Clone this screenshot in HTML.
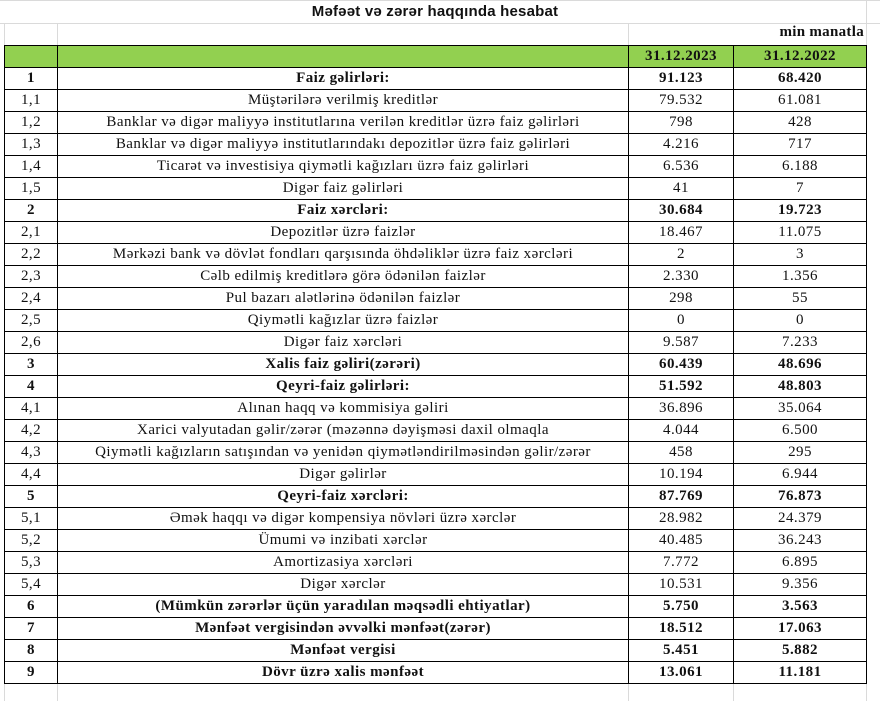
<!DOCTYPE html>
<html><head><meta charset="utf-8"><style>
html,body{margin:0;padding:0;background:#fff;width:880px;height:701px;overflow:hidden}
body{position:relative;font-family:"Liberation Serif",serif;font-size:15px;letter-spacing:0.45px;color:#111}
.g{position:absolute;background:#dadada}
table{position:absolute;left:4px;top:45px;border-collapse:collapse;table-layout:fixed}
td{border:1px solid #000;height:21px;padding:0;text-align:center;white-space:nowrap;overflow:hidden;line-height:21px}
td span{position:relative;top:1px}
tr.h td{background:#92d050;font-weight:bold}
tr.b td{font-weight:bold}
.title{position:absolute;left:0;width:870px;top:3px;text-align:center;font-family:"Liberation Sans",sans-serif;font-weight:bold;font-size:15px;letter-spacing:0.2px}
.unit{position:absolute;right:16px;top:24px;font-size:15px;font-weight:bold;letter-spacing:0.3px}
</style></head><body>
<div class="g" style="left:0;top:0;width:880px;height:1px"></div>
<div class="g" style="left:0;top:23px;width:880px;height:1px"></div>
<div class="g" style="left:4px;top:23px;width:1px;height:22px"></div>
<div class="g" style="left:57px;top:23px;width:1px;height:22px"></div>
<div class="g" style="left:628px;top:23px;width:1px;height:22px"></div>
<div class="g" style="left:866px;top:0;width:1px;height:701px"></div>
<div class="g" style="left:4px;top:683px;width:1px;height:18px"></div>
<div class="g" style="left:57px;top:683px;width:1px;height:18px"></div>
<div class="g" style="left:628px;top:683px;width:1px;height:18px"></div>
<div class="g" style="left:733px;top:683px;width:1px;height:18px"></div>
<div class="title">Məfəət və zərər haqqında hesabat</div>
<div class="unit">min manatla</div>
<table>
<colgroup><col style="width:53px"><col style="width:571px"><col style="width:105px"><col style="width:133px"></colgroup>
<tr class="h"><td></td><td></td><td>31.12.2023</td><td>31.12.2022</td></tr>
<tr class="b"><td>1</td><td>Faiz gəlirləri:</td><td>91.123</td><td>68.420</td></tr>
<tr><td>1,1</td><td>Müştərilərə verilmiş kreditlər</td><td>79.532</td><td>61.081</td></tr>
<tr><td>1,2</td><td>Banklar və digər maliyyə institutlarına verilən kreditlər üzrə faiz gəlirləri</td><td>798</td><td>428</td></tr>
<tr><td>1,3</td><td>Banklar və digər maliyyə institutlarındakı depozitlər üzrə faiz gəlirləri</td><td>4.216</td><td>717</td></tr>
<tr><td>1,4</td><td>Ticarət və investisiya qiymətli kağızları üzrə faiz gəlirləri</td><td>6.536</td><td>6.188</td></tr>
<tr><td>1,5</td><td>Digər faiz gəlirləri</td><td>41</td><td>7</td></tr>
<tr class="b"><td>2</td><td>Faiz xərcləri:</td><td>30.684</td><td>19.723</td></tr>
<tr><td>2,1</td><td>Depozitlər üzrə faizlər</td><td>18.467</td><td>11.075</td></tr>
<tr><td>2,2</td><td>Mərkəzi bank və dövlət fondları qarşısında öhdəliklər üzrə faiz xərcləri</td><td>2</td><td>3</td></tr>
<tr><td>2,3</td><td>Cəlb edilmiş kreditlərə görə ödənilən faizlər</td><td>2.330</td><td>1.356</td></tr>
<tr><td>2,4</td><td>Pul bazarı alətlərinə ödənilən faizlər</td><td>298</td><td>55</td></tr>
<tr><td>2,5</td><td>Qiymətli kağızlar üzrə faizlər</td><td>0</td><td>0</td></tr>
<tr><td>2,6</td><td>Digər faiz xərcləri</td><td>9.587</td><td>7.233</td></tr>
<tr class="b"><td>3</td><td>Xalis faiz gəliri(zərəri)</td><td>60.439</td><td>48.696</td></tr>
<tr class="b"><td>4</td><td>Qeyri-faiz gəlirləri:</td><td>51.592</td><td>48.803</td></tr>
<tr><td>4,1</td><td>Alınan haqq və kommisiya gəliri</td><td>36.896</td><td>35.064</td></tr>
<tr><td>4,2</td><td>Xarici valyutadan gəlir/zərər (məzənnə dəyişməsi daxil olmaqla</td><td>4.044</td><td>6.500</td></tr>
<tr><td>4,3</td><td>Qiymətli kağızların satışından və yenidən qiymətləndirilməsindən gəlir/zərər</td><td>458</td><td>295</td></tr>
<tr><td>4,4</td><td>Digər gəlirlər</td><td>10.194</td><td>6.944</td></tr>
<tr class="b"><td>5</td><td>Qeyri-faiz xərcləri:</td><td>87.769</td><td>76.873</td></tr>
<tr><td>5,1</td><td>Əmək haqqı və digər kompensiya növləri üzrə xərclər</td><td>28.982</td><td>24.379</td></tr>
<tr><td>5,2</td><td>Ümumi və inzibati xərclər</td><td>40.485</td><td>36.243</td></tr>
<tr><td>5,3</td><td>Amortizasiya xərcləri</td><td>7.772</td><td>6.895</td></tr>
<tr><td>5,4</td><td>Digər xərclər</td><td>10.531</td><td>9.356</td></tr>
<tr class="b"><td>6</td><td>(Mümkün zərərlər üçün yaradılan məqsədli ehtiyatlar)</td><td>5.750</td><td>3.563</td></tr>
<tr class="b"><td>7</td><td>Mənfəət vergisindən əvvəlki mənfəət(zərər)</td><td>18.512</td><td>17.063</td></tr>
<tr class="b"><td>8</td><td>Mənfəət vergisi</td><td>5.451</td><td>5.882</td></tr>
<tr class="b"><td>9</td><td>Dövr üzrə xalis mənfəət</td><td>13.061</td><td>11.181</td></tr>
</table>
</body></html>
